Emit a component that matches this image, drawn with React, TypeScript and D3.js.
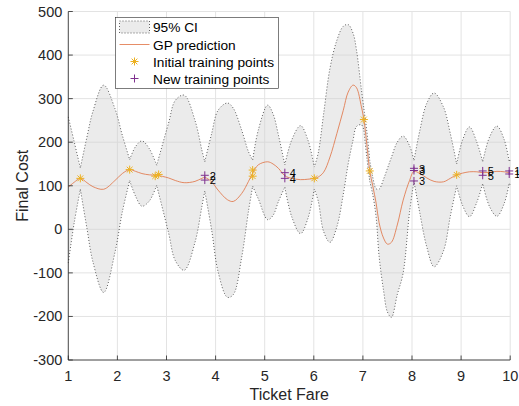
import React from 'react';
import * as d3 from 'd3';

const W = 519;
const H = 406;

// Fare values where the posterior is sampled
const fareGrid = [
  1.0, 1.12, 1.245, 1.38, 1.5, 1.72, 1.95, 2.1, 2.25, 2.37, 2.5, 2.65, 2.8,
  3.04, 3.18, 3.36, 3.58, 3.72, 3.78, 3.92, 4.05, 4.24, 4.36, 4.53, 4.67, 4.755,
  4.87, 5.06, 5.17, 5.28, 5.41, 5.55, 5.73, 5.88, 6.01, 6.09, 6.2, 6.33, 6.47,
  6.6, 6.7, 6.8, 6.87, 6.97, 7.02, 7.08, 7.14, 7.2, 7.27, 7.33, 7.42, 7.5, 7.58,
  7.7, 7.82, 7.95, 8.04, 8.16, 8.3, 8.45, 8.64, 8.78, 8.91, 9.03, 9.17, 9.32,
  9.44, 9.58, 9.73, 9.88, 9.98, 10.0,
];
// GP posterior mean
const gpMean = [
  97, 108, 117, 107, 98, 92, 112, 128, 137, 133, 128, 125, 124,
  118, 112, 107, 110, 117, 119, 109, 90, 68, 64, 82, 110, 129,
  148, 155, 150, 140, 123, 117, 114, 115, 117, 120, 131, 166, 220,
  273, 315, 331, 325, 281, 252, 195, 134, 100, 60, 15, -20, -34, -30,
  10, 67, 112, 133, 128, 118, 110, 109, 117, 125, 129, 132, 132,
  130, 131, 133, 132, 130, 130,
];
// Upper and lower 95% confidence bounds
const ciUpper = [
  258, 201, 141, 212, 270, 331, 277, 216, 160, 190, 203, 185, 147,
  243, 296, 308, 250, 182, 155, 220, 273, 290, 278, 228, 178, 159,
  228, 285, 265, 216, 148, 205, 238, 205, 143, 175, 265, 370, 434,
  466, 470, 450, 411, 320, 277, 225, 158, 120, 93, 92, 115, 140, 165,
  200, 214, 192, 158, 227, 289, 313, 281, 220, 150, 205, 235, 200,
  155, 212, 237, 205, 155, 160,
];
const ciLower = [
  -77, 15, 92, 2, -74, -145, -53, 40, 112, 76, 53, 65, 101,
  -7, -72, -94, -30, 52, 88, -2, -97, -156, -150, -65, 42, 99,
  70, 22, 32, 64, 97, 29, -10, 25, 92, 65, -5, -30, 6,
  80, 150, 205, 236, 240, 227, 165, 110, 80, 27, -62, -140, -190, -202,
  -150, -100, 40, 110, 37, -40, -86, -50, 30, 100, 55, 29, 62,
  105, 52, 30, 60, 106, 102,
];
// Fares at which the cost has been observed (band narrows there)
const observedFares = [1.245, 2.25, 2.8, 3.78, 4.755, 5.41, 6.01, 7.02, 7.14, 8.04, 8.91, 9.44, 9.98];

// Initial training set
const initialFares = [1.245, 2.25, 2.77, 2.84, 4.755, 4.755, 6.01, 7.02, 7.14, 8.91];
const initialCosts = [117, 137, 122, 126, 136, 122, 117, 252, 134, 125];

// Points added by the acquisition loop, labelled with their iteration
const newFares = [3.78, 3.78, 5.41, 5.41, 8.04, 8.04, 8.04, 9.44, 9.44, 9.98, 9.98];
const newCosts = [124, 113, 130, 117, 140, 135, 111, 134, 124, 134, 127];
const newLabels = ['2', '2', '4', '4', '3', '3', '3', '5', '5', '1', '1'];

const xTicks = [1, 2, 3, 4, 5, 6, 7, 8, 9, 10];
const yTicks = [-300, -200, -100, 0, 100, 200, 300, 400, 500];

const legendLabels = ['95% CI', 'GP prediction', 'Initial training points', 'New training points'];

const FONT = '"Liberation Sans", Arial, Helvetica, sans-serif';
const AXIS = '#262626';
const ORANGE = '#E07040';
const GOLD = '#EDB120';
const PURPLE = '#7E2F8E';
const BAND = '#ebebeb';

type P = { f: number; m: number; u: number; l: number };

function Asterisk({ cx, cy, r = 4 }: { cx: number; cy: number; r?: number }) {
  const d = r * 0.72;
  return (
    <g stroke={GOLD} strokeWidth={1} fill="none">
      <line x1={cx - r} y1={cy} x2={cx + r} y2={cy} />
      <line x1={cx} y1={cy - r} x2={cx} y2={cy + r} />
      <line x1={cx - d} y1={cy - d} x2={cx + d} y2={cy + d} />
      <line x1={cx - d} y1={cy + d} x2={cx + d} y2={cy - d} />
    </g>
  );
}

function Plus({ cx, cy, r = 4 }: { cx: number; cy: number; r?: number }) {
  return (
    <g stroke={PURPLE} strokeWidth={1} fill="none">
      <line x1={cx - r} y1={cy} x2={cx + r} y2={cy} />
      <line x1={cx} y1={cy - r} x2={cx} y2={cy + r} />
    </g>
  );
}

export default function App() {
  const x = d3.scaleLinear().domain([1, 10]).range([68.3, 510.2]);
  const y = d3.scaleLinear().domain([-300, 500]).range([360, 11.5]);
  const [x0, x1] = x.range();
  const [yb, yt] = y.range();

  const pts: P[] = fareGrid.map((f, i) => ({ f, m: gpMean[i], u: ciUpper[i], l: ciLower[i] }));

  // split the band into lobes between observed fares
  const cuts = [0];
  fareGrid.forEach((f, i) => {
    if (i > 0 && i < fareGrid.length - 1 && observedFares.some((o) => Math.abs(o - f) < 1e-9)) cuts.push(i);
  });
  cuts.push(fareGrid.length - 1);
  const segs: P[][] = [];
  for (let k = 0; k < cuts.length - 1; k++) segs.push(pts.slice(cuts[k], cuts[k + 1] + 1));

  const curve = d3.curveCatmullRom.alpha(0.5);
  const upperLine = d3.line<P>().x((d) => x(d.f)).y((d) => y(d.u)).curve(curve);
  const lowerLine = d3.line<P>().x((d) => x(d.f)).y((d) => y(d.l)).curve(curve);
  const meanLine = d3.line<P>().x((d) => x(d.f)).y((d) => y(d.m)).curve(curve);

  const join = (paths: string[]) => paths.map((p, i) => (i === 0 ? p : p.replace(/^M/, 'L'))).join('');
  const upperPath = join(segs.map((s) => upperLine(s) as string));
  const lowerPath = join(segs.map((s) => lowerLine(s) as string));
  const lowerRev = join(
    segs
      .slice()
      .reverse()
      .map((s) => lowerLine(s.slice().reverse()) as string)
  );
  const bandPath = upperPath + lowerRev.replace(/^M/, 'L') + 'Z';

  // legend geometry
  const lg = { x: 115.5, y: 17.5, w: 163, h: 71 };
  const rowY = [27, 44.5, 61.5, 78.5];

  return (
    <svg
      width={W}
      height={H}
      style={{ position: 'absolute', left: 0, top: 0, background: '#fff' }}
      fontFamily={FONT}
    >
      <rect x={0} y={0} width={W} height={H} fill="#fff" />
      {/* grid */}
      <g stroke="#e3e3e3" strokeWidth={1}>
        {xTicks.map((t) => (
          <line key={'gx' + t} x1={x(t)} x2={x(t)} y1={yb} y2={yt} />
        ))}
        {yTicks.map((t) => (
          <line key={'gy' + t} x1={x0} x2={x1} y1={y(t)} y2={y(t)} />
        ))}
      </g>

      {/* confidence band */}
      <path d={bandPath} fill="#cfcfcf" fillOpacity={0.42} stroke="none" />
      <path d={upperPath} fill="none" stroke="#3a3a3a" strokeWidth={0.8} strokeDasharray="1 2" />
      <path d={lowerPath} fill="none" stroke="#3a3a3a" strokeWidth={0.8} strokeDasharray="1 2" />

      {/* posterior mean */}
      <path d={meanLine(pts) as string} fill="none" stroke={ORANGE} strokeWidth={0.8} />

      {/* training points */}
      {initialFares.map((f, i) => (
        <Asterisk key={'ia' + i} cx={x(f)} cy={y(initialCosts[i])} />
      ))}
      {newFares.map((f, i) => (
        <g key={'np' + i}>
          <Plus cx={x(f)} cy={y(newCosts[i])} />
          <text
            x={x(f) + 5}
            y={y(newCosts[i]) + 1.5}
            fontSize={11}
            dominantBaseline="middle"
            fill="#000"
          >
            {newLabels[i]}
          </text>
        </g>
      ))}

      {/* axes */}
      <g stroke={AXIS} strokeWidth={0.8} fill="none">
        <line x1={x0} x2={x1} y1={yb} y2={yb} />
        <line x1={x0} x2={x0} y1={yb} y2={yt} />
        {xTicks.map((t) => (
          <line key={'tx' + t} x1={x(t)} x2={x(t)} y1={yb} y2={yb - 4.5} />
        ))}
        {yTicks.map((t) => (
          <line key={'ty' + t} x1={x0} x2={x0 + 4.5} y1={y(t)} y2={y(t)} />
        ))}
      </g>
      <g fill={AXIS} fontSize={14.5}>
        {xTicks.map((t) => (
          <text key={'lx' + t} x={x(t)} y={yb + 21} textAnchor="middle">
            {t}
          </text>
        ))}
        {yTicks.map((t) => (
          <text key={'ly' + t} x={x0 - 6} y={y(t) + 5} textAnchor="end">
            {t}
          </text>
        ))}
      </g>
      <text x={(x0 + x1) / 2} y={400} textAnchor="middle" fontSize={16} fill={AXIS}>
        Ticket Fare
      </text>
      <text
        transform={`translate(28, ${(yb + yt) / 2}) rotate(-90)`}
        textAnchor="middle"
        fontSize={16}
        fill={AXIS}
      >
        Final Cost
      </text>

      {/* legend */}
      <g>
        <rect x={lg.x} y={lg.y} width={lg.w} height={lg.h} fill="#fff" stroke={AXIS} strokeWidth={0.6} />
        <rect
          x={119.5}
          y={rowY[0] - 6}
          width={30}
          height={12}
          fill={BAND}
          stroke="#3a3a3a"
          strokeWidth={0.8}
          strokeDasharray="1 2"
        />
        <line x1={119.5} x2={149.5} y1={rowY[1]} y2={rowY[1]} stroke={ORANGE} strokeWidth={0.8} />
        <Asterisk cx={134.5} cy={rowY[2]} />
        <Plus cx={134.5} cy={rowY[3]} />
        {legendLabels.map((s, i) => (
          <text key={'lg' + i} x={153} y={rowY[i] + 5} fontSize={13.7} fill="#000">
            {s}
          </text>
        ))}
      </g>
    </svg>
  );
}
